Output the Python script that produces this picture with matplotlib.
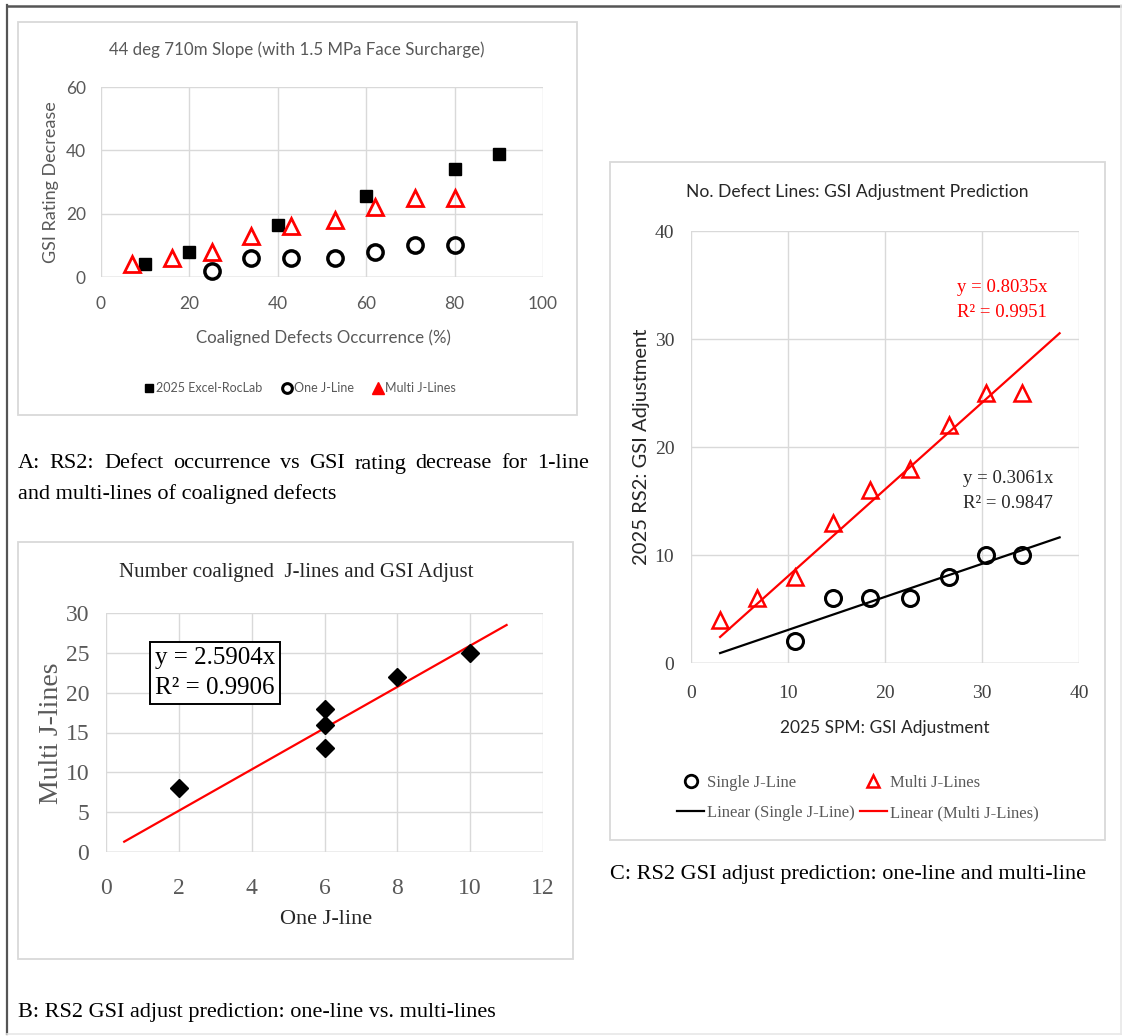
import matplotlib
matplotlib.use("Agg")
import matplotlib.pyplot as plt
from matplotlib.lines import Line2D
from matplotlib.patches import Rectangle

# ---- panel A: defect occurrence vs GSI rating decrease ----
roclab_x = [10, 20, 40, 60, 80, 90]
roclab_y = [4, 8, 16.5, 25.5, 34, 39]
one_line_x = [25, 34, 43, 53, 62, 71, 80]
one_line_y = [2, 6, 6, 6, 8, 10, 10]
multi_line_x = [7, 16, 25, 34, 43, 53, 62, 71, 80]
multi_line_y = [4, 6, 8, 13, 16, 18, 22, 25, 25]

# ---- panel B: one J-line vs multi J-lines ----
b_one = [2, 6, 6, 6, 8, 10]
b_multi = [8, 18, 16, 13, 22, 25]
b_slope = 2.5904
b_r2 = 0.9906
b_fit_range = [0.5, 11]

# ---- panel C: SPM vs RS2 adjustment ----
c_single_x = [10.7, 14.6, 18.5, 22.6, 26.6, 30.4, 34.1]
c_single_y = [2, 6, 6, 6, 8, 10, 10]
c_multi_x = [3, 6.8, 10.7, 14.6, 18.5, 22.6, 26.6, 30.4, 34.1]
c_multi_y = [4, 6, 8, 13, 16, 18, 22, 25, 25]
c_single_slope, c_single_r2 = 0.3061, 0.9847
c_multi_slope, c_multi_r2 = 0.8035, 0.9951
c_fit_range = [3, 38]

W, H = 1122, 1036
SANS = "Lato"
SERIF = "Liberation Serif"
GRID = "#d9d9d9"
GREY = "#595959"

fig = plt.figure(figsize=(W / 100, H / 100), dpi=100)
fig.patch.set_facecolor("white")
renderer = fig.canvas.get_renderer()


def rect(l, t, r, b):
    # pixel box (from top-left) -> figure fraction
    return [l / W, 1 - b / H, (r - l) / W, (b - t) / H]


def fx(x):
    return x / W


def fy(y):
    return 1 - y / H


def txt(x, y, s, **kw):
    kw.setdefault("ha", "center")
    kw.setdefault("va", "center")
    return fig.text(fx(x), fy(y), s, **kw)


def justified(x0, x1, y, line, **kw):
    # spread the words of one line evenly between x0 and x1 (pixels)
    words = line.split()
    items = [txt(0, y, w, ha="left", **kw) for w in words]
    widths = [t.get_window_extent(renderer).width for t in items]
    gap = (x1 - x0 - sum(widths)) / (len(words) - 1)
    x = x0
    for t, w in zip(items, widths):
        t.set_x(fx(x))
        x += w + gap


def frame(l, t, r, b, color=GRID):
    fig.add_artist(Rectangle((fx(l), fy(b)), (r - l) / W, (b - t) / H,
                             transform=fig.transFigure, fill=False,
                             edgecolor=color, lw=1.3))


def excel_axes(ax, family, size, color, xpad, ypad):
    for sp in ax.spines.values():
        sp.set_visible(False)
    ax.grid(True, color=GRID, lw=1.0)
    ax.set_axisbelow(True)
    ax.tick_params(length=0, labelsize=size, labelcolor=color)
    ax.tick_params(axis="x", pad=xpad)
    ax.tick_params(axis="y", pad=ypad)
    for lab in ax.get_xticklabels() + ax.get_yticklabels():
        lab.set_family(family)
    ax.axhline(0, color="#bfbfbf", lw=1.0, zorder=0.5)


# outer page frame
fig.add_artist(Line2D([fx(7), fx(7)], [fy(5), fy(1034)], transform=fig.transFigure, color="#555555", lw=1.6))
fig.add_artist(Line2D([fx(7), fx(1122)], [fy(5.5), fy(5.5)], transform=fig.transFigure, color="#555555", lw=1.8))
fig.add_artist(Line2D([fx(7), fx(1121)], [fy(1034), fy(1034)], transform=fig.transFigure, color="#e8e8e8", lw=1.2))
fig.add_artist(Line2D([fx(1121), fx(1121)], [fy(5), fy(1034)], transform=fig.transFigure, color="#e8e8e8", lw=1.2))

# ================= panel A =================
frame(18, 22, 577, 415)
axA = fig.add_axes(rect(101, 87, 543, 277))
axA.set_xlim(0, 100)
axA.set_ylim(0, 60)
axA.set_xticks(range(0, 101, 20))
axA.set_yticks(range(0, 61, 20))
axA.plot(roclab_x, roclab_y, ls="", marker="s", ms=9, color="black", clip_on=False)
axA.plot(one_line_x, one_line_y, ls="", marker="o", ms=11, mfc="none", mec="black", mew=2.5, clip_on=False)
axA.plot(multi_line_x, multi_line_y, ls="", marker="^", ms=11, mfc="none", mec="red", mew=2.0, clip_on=False)
excel_axes(axA, SANS, 12.5, GREY, 14, 11)

txt(297, 50, "44 deg 710m Slope (with 1.5 MPa Face Surcharge)", family=SANS, fontsize=12.2, color=GREY)
txt(323, 338, "Coaligned Defects Occurrence (%)", family=SANS, fontsize=12.2, color=GREY)
txt(51, 182, "GSI Rating Decrease", family=SANS, fontsize=13, color=GREY, rotation=90)

legA = [
    Line2D([], [], ls="", marker="s", ms=6, color="black", label="2025 Excel-RocLab"),
    Line2D([], [], ls="", marker="o", ms=7, mfc="white", mec="black", mew=2.2, label="One J-Line"),
    Line2D([], [], ls="", marker="^", ms=8, color="red", label="Multi J-Lines"),
]
fig.legend(handles=legA, loc="center", bbox_to_anchor=(fx(300), fy(388)), ncol=3, frameon=False,
           prop={"family": SANS, "size": 9}, labelcolor=GREY, handlelength=0.8,
           handletextpad=0.2, columnspacing=1.5)

justified(18, 589, 464, "A: RS2: Defect occurrence vs GSI rating decrease for 1-line",
          family=SERIF, fontsize=16, color="black")
txt(18, 494, "and multi-lines of coaligned defects", ha="left", family=SERIF, fontsize=16, color="black")

# ================= panel B =================
frame(18, 542, 573, 959)
axB = fig.add_axes(rect(106, 613, 543, 852))
axB.set_xlim(0, 12)
axB.set_ylim(0, 30)
axB.set_xticks(range(0, 13, 2))
axB.set_yticks(range(0, 31, 5))
axB.plot(b_fit_range, [b_slope * v for v in b_fit_range], color="red", lw=1.6, zorder=2)
axB.plot(b_one, b_multi, ls="", marker="D", ms=9.5, color="black", zorder=3)
excel_axes(axB, SERIF, 17, GREY, 19, 12)

txt(296, 573, "Number coaligned  J-lines and GSI Adjust", family=SERIF, fontsize=15, color="#262626")
txt(326, 920, "One J-line", family=SERIF, fontsize=16, color="#262626")
txt(52, 733, "Multi J-lines", family=SERIF, fontsize=20, color=GREY, rotation=90)
txt(215, 673, f"y = {b_slope:.4f}x\nR² = {b_r2:.4f}", family=SERIF, fontsize=18, color="black",
    ha="center", linespacing=1.45,
    bbox=dict(boxstyle="square,pad=0.2", facecolor="white", edgecolor="black", lw=1.4))

txt(18, 1013, "B: RS2 GSI adjust prediction: one-line vs. multi-lines", ha="left",
    family=SERIF, fontsize=16, color="black")

# ================= panel C =================
frame(610, 162, 1105, 840)
axC = fig.add_axes(rect(691, 231, 1079, 663))
axC.set_xlim(0, 40)
axC.set_ylim(0, 40)
axC.set_xticks(range(0, 41, 10))
axC.set_yticks(range(0, 41, 10))
axC.plot(c_fit_range, [c_single_slope * v for v in c_fit_range], color="black", lw=1.6, zorder=2)
axC.plot(c_fit_range, [c_multi_slope * v for v in c_fit_range], color="red", lw=1.6, zorder=2)
axC.plot(c_single_x, c_single_y, ls="", marker="o", ms=11.5, mfc="none", mec="black", mew=2.2, zorder=3)
axC.plot(c_multi_x, c_multi_y, ls="", marker="^", ms=11.5, mfc="none", mec="red", mew=1.8, zorder=3)
excel_axes(axC, SERIF, 14, "#404040", 16, 12)

txt(857, 192, "No. Defect Lines: GSI Adjustment Prediction", family=SANS, fontsize=12.6, color="#262626")
txt(885, 728, "2025 SPM: GSI Adjustment", family=SANS, fontsize=12.5, color="#262626")
txt(642, 447, "2025 RS2: GSI Adjustment", family=SANS, fontsize=14.5, color="#262626", rotation=90)
txt(1002, 300, f"y = {c_multi_slope:.4f}x\nR² = {c_multi_r2:.4f}", family=SERIF, fontsize=13.5,
    color="red", linespacing=1.55)
txt(1008, 491, f"y = {c_single_slope:.4f}x\nR² = {c_single_r2:.4f}", family=SERIF, fontsize=13.5,
    color="#262626", linespacing=1.55)

legC = [
    Line2D([], [], ls="", marker="o", ms=9, mfc="none", mec="black", mew=2.0, label="Single J-Line"),
    Line2D([], [], color="black", lw=1.6, label="Linear (Single J-Line)"),
    Line2D([], [], ls="", marker="^", ms=9, mfc="none", mec="red", mew=1.8, label="Multi J-Lines"),
    Line2D([], [], color="red", lw=1.6, label="Linear (Multi J-Lines)"),
]
fig.legend(handles=legC, loc="center", bbox_to_anchor=(fx(858), fy(798)), ncol=2, frameon=False,
           prop={"family": SERIF, "size": 12}, labelcolor=GREY, handlelength=1.6,
           handletextpad=0.2, columnspacing=0.3, labelspacing=0.85)

txt(610, 875, "C: RS2 GSI adjust prediction: one-line and multi-line", ha="left",
    family=SERIF, fontsize=16, color="black")

fig.savefig("out.png", dpi=100, facecolor="white")
